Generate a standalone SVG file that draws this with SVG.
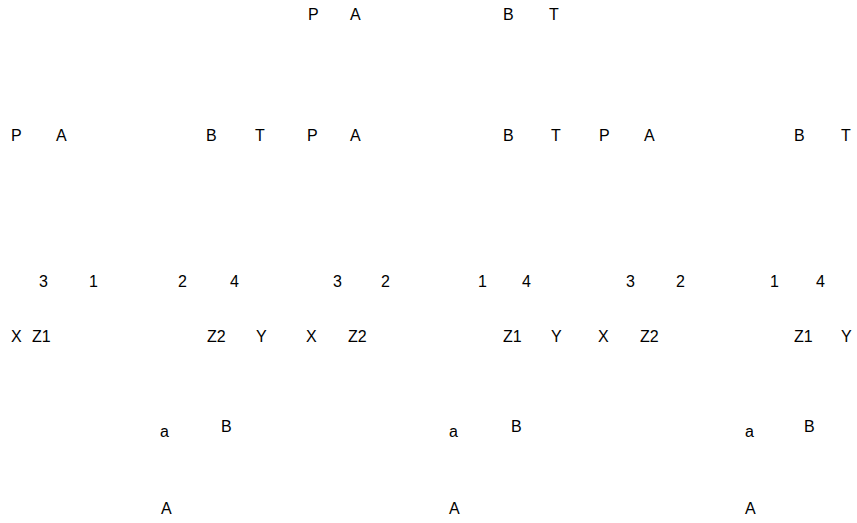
<svg xmlns="http://www.w3.org/2000/svg" width="857" height="523" viewBox="0 0 857 523">
<style>
text{font-family:"Liberation Sans",Arial,sans-serif;font-size:16px;fill:#000}
</style>
<rect width="857" height="523" fill="#fff"/>
<g id="top">
<text x="308" y="20">P</text><text x="350" y="20">A</text><text x="503" y="20">B</text><text x="549" y="20">T</text>
</g>
<g id="row2">
<text x="11" y="141">P</text><text x="56" y="141">A</text><text x="206" y="141">B</text><text x="255" y="141">T</text>
<text x="307" y="141">P</text><text x="350" y="141">A</text><text x="503" y="141">B</text><text x="551" y="141">T</text>
<text x="599" y="141">P</text><text x="644" y="141">A</text><text x="794" y="141">B</text><text x="841" y="141">T</text>
</g>
<g id="row3">
<text x="39" y="287">3</text><text x="89" y="287">1</text><text x="178" y="287">2</text><text x="230" y="287">4</text>
<text x="333" y="287">3</text><text x="381" y="287">2</text><text x="478" y="287">1</text><text x="522" y="287">4</text>
<text x="626" y="287">3</text><text x="676" y="287">2</text><text x="770" y="287">1</text><text x="816" y="287">4</text>
</g>
<g id="row4">
<text x="11" y="342">X</text><text x="32" y="342">Z1</text><text x="207" y="342">Z2</text><text x="256" y="342">Y</text>
<text x="306" y="342">X</text><text x="348" y="342">Z2</text><text x="503" y="342">Z1</text><text x="551" y="342">Y</text>
<text x="598" y="342">X</text><text x="640" y="342">Z2</text><text x="794" y="342">Z1</text><text x="841" y="342">Y</text>
</g>
<g id="row5">
<text x="160" y="437">a</text><text x="221" y="432">B</text>
<text x="449" y="437">a</text><text x="511" y="432">B</text>
<text x="745" y="437">a</text><text x="804" y="432">B</text>
</g>
<g id="row6">
<text x="161" y="514">A</text><text x="449" y="514">A</text><text x="745" y="514">A</text>
</g>
<g id="connectors"></g>
</svg>
